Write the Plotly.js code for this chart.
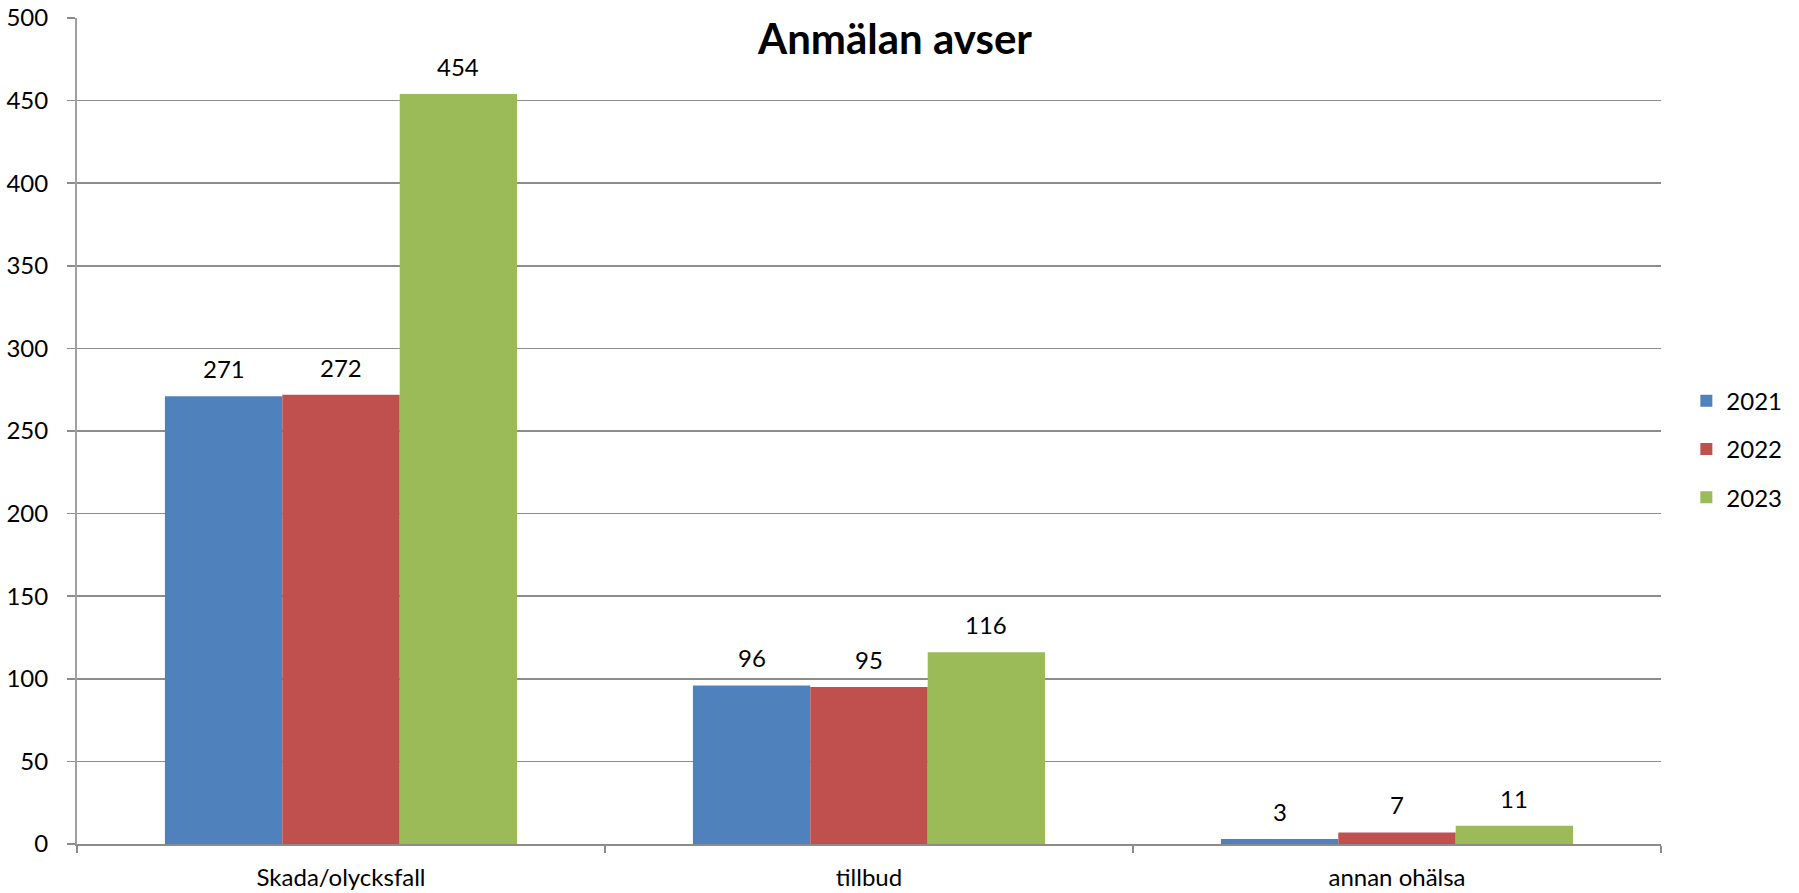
<!DOCTYPE html>
<html>
<head>
<meta charset="utf-8">
<script src="https://cdn.plot.ly/plotly-3.0.1.min.js"></script>
<style>html,body{margin:0;padding:0;background:#fff;}#chart{width:1799px;height:893px;}</style>
</head>
<body>
<div id="chart"></div>
<script>
const categories = ["Skada/olycksfall", "tillbud", "annan ohälsa"];
const years = ["2021", "2022", "2023"];
const values2021 = [271, 96, 3];
const values2022 = [272, 95, 7];
const values2023 = [454, 116, 11];
const yTicks = [0, 50, 100, 150, 200, 250, 300, 350, 400, 450, 500];

const seriesValues = [values2021, values2022, values2023];
const colors = ["#4F81BD", "#C0504D", "#9BBB59"];
const FONT = "Lato, 'Open Sans', sans-serif";
const FS = 24;
const bargap = 0.333;

const traces = seriesValues.map((vals, i) => ({
  type: "bar",
  name: years[i],
  x: categories,
  y: vals,
  marker: {color: colors[i], line: {width: 0}},
  legendgroup: years[i],
  hoverinfo: "x+y+name"
}));

const n = seriesValues.length;
const barW = (1 - bargap) / n;
const annotations = [];
seriesValues.forEach((vals, i) => {
  const off = (i - (n - 1) / 2) * barW;
  vals.forEach((v, j) => {
    annotations.push({
      x: j + off, y: v, xref: "x", yref: "y",
      text: String(v), showarrow: false,
      yanchor: "bottom", yshift: 11,
      font: {family: FONT, size: FS, color: "#000"}
    });
  });
});

const layout = {
  width: 1799, height: 893,
  margin: {l: 77, r: 134, t: 17.5, b: 49},
  paper_bgcolor: "#fff", plot_bgcolor: "#fff",
  barmode: "group", bargap: bargap, bargroupgap: 0,
  font: {family: FONT, size: FS, color: "#000"},
  title: {
    text: "<b>Anmälan avser</b>",
    font: {family: FONT, size: 42, color: "#000"},
    x: 0.4975, xref: "container", xanchor: "center",
    y: 1 - 25 / 893, yref: "container", yanchor: "top"
  },
  xaxis: {
    type: "category",
    tickson: "boundaries",
    ticks: "outside", ticklen: 7, tickwidth: 1.5, tickcolor: "#8c8c8c",
    showline: true, linecolor: "#8c8c8c", linewidth: 1.5,
    showgrid: false, zeroline: false,
    ticklabelstandoff: 12,
    tickfont: {family: FONT, size: FS, color: "#000"}
  },
  yaxis: {
    range: [0, 500], tickvals: yTicks, ticktext: yTicks.map(String),
    ticks: "outside", ticklen: 8, tickwidth: 1.5, tickcolor: "#8c8c8c",
    showline: true, linecolor: "#a0a0a0", linewidth: 2,
    showgrid: true, gridcolor: "#8c8c8c", gridwidth: 1.5,
    zeroline: false,
    ticklabelstandoff: 14,
    tickfont: {family: FONT, size: FS, color: "#000"}
  },
  legend: {
    x: 1.016, xanchor: "left", xref: "paper",
    y: 0.478, yanchor: "middle",
    traceorder: "grouped", tracegroupgap: 14,
    font: {family: FONT, size: FS, color: "#000"},
    itemwidth: 30, bgcolor: "rgba(0,0,0,0)"
  },
  annotations: annotations,
  showlegend: true
};

Plotly.newPlot("chart", traces, layout, {displayModeBar: false, staticPlot: true});
</script>
</body>
</html>
